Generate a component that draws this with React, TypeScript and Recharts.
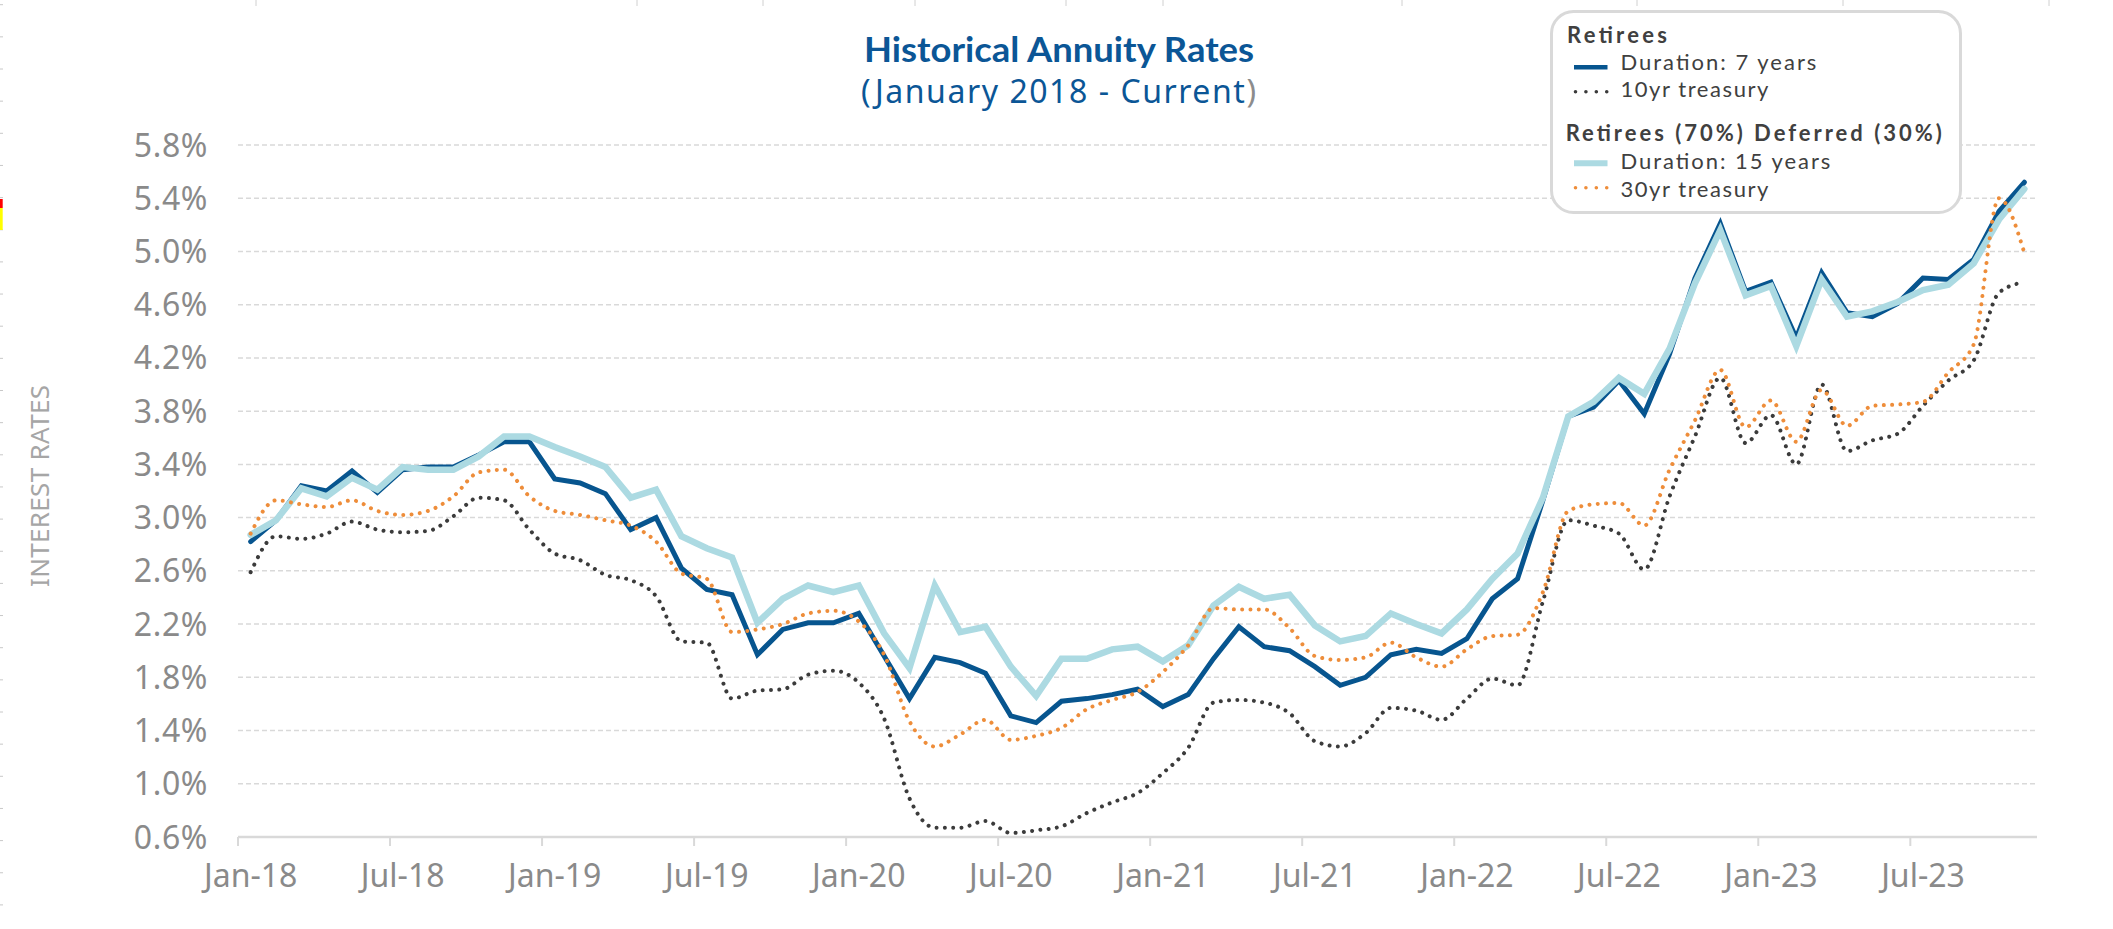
import React from 'react';
import { LineChart, Line, XAxis, YAxis, CartesianGrid, Legend } from 'recharts';

// ---------- data ----------
const MONTHS = [
  'Jan-18','Feb-18','Mar-18','Apr-18','May-18','Jun-18','Jul-18','Aug-18','Sep-18','Oct-18','Nov-18','Dec-18',
  'Jan-19','Feb-19','Mar-19','Apr-19','May-19','Jun-19','Jul-19','Aug-19','Sep-19','Oct-19','Nov-19','Dec-19',
  'Jan-20','Feb-20','Mar-20','Apr-20','May-20','Jun-20','Jul-20','Aug-20','Sep-20','Oct-20','Nov-20','Dec-20',
  'Jan-21','Feb-21','Mar-21','Apr-21','May-21','Jun-21','Jul-21','Aug-21','Sep-21','Oct-21','Nov-21','Dec-21',
  'Jan-22','Feb-22','Mar-22','Apr-22','May-22','Jun-22','Jul-22','Aug-22','Sep-22','Oct-22','Nov-22','Dec-22',
  'Jan-23','Feb-23','Mar-23','Apr-23','May-23','Jun-23','Jul-23','Aug-23','Sep-23','Oct-23','Nov-23',
];

// Retirees – Duration: 7 years
const DUR7 = [
  2.82, 2.98, 3.24, 3.20, 3.35, 3.19, 3.36, 3.38, 3.38, 3.47, 3.57, 3.57,
  3.29, 3.26, 3.18, 2.91, 3.00, 2.62, 2.46, 2.42, 1.97, 2.16, 2.21, 2.21,
  2.28, 1.96, 1.64, 1.95, 1.91, 1.83, 1.51, 1.46, 1.62, 1.64, 1.67, 1.71,
  1.58, 1.67, 1.94, 2.18, 2.03, 2.00, 1.88, 1.74, 1.80, 1.97, 2.01, 1.98,
  2.09, 2.39, 2.54, 3.13, 3.76, 3.83, 4.03, 3.78, 4.23, 4.80, 5.21, 4.70,
  4.77, 4.35, 4.84, 4.54, 4.51, 4.61, 4.80, 4.79, 4.94, 5.30, 5.52,
];

// Retirees (70%) Deferred (30%) – Duration: 15 years
const DUR15 = [
  2.87, 2.98, 3.22, 3.16, 3.30, 3.21, 3.38, 3.36, 3.36, 3.46, 3.61, 3.61,
  3.53, 3.46, 3.38, 3.15, 3.21, 2.86, 2.77, 2.70, 2.21, 2.39, 2.49, 2.44,
  2.49, 2.13, 1.87, 2.49, 2.14, 2.18, 1.88, 1.66, 1.94, 1.94, 2.01, 2.03,
  1.92, 2.04, 2.34, 2.48, 2.39, 2.42, 2.19, 2.07, 2.11, 2.28, 2.20, 2.13,
  2.31, 2.54, 2.73, 3.15, 3.76, 3.87, 4.05, 3.93, 4.27, 4.76, 5.16, 4.67,
  4.74, 4.29, 4.79, 4.51, 4.55, 4.62, 4.71, 4.75, 4.91, 5.24, 5.47,
];

// 10yr treasury
const T10 = [
  2.59, 2.86, 2.84, 2.88, 2.97, 2.91, 2.89, 2.90, 3.01, 3.15, 3.13, 2.91,
  2.73, 2.68, 2.57, 2.53, 2.41, 2.07, 2.06, 1.64, 1.70, 1.71, 1.82, 1.85,
  1.76, 1.49, 0.89, 0.67, 0.67, 0.72, 0.63, 0.65, 0.68, 0.78, 0.86, 0.93,
  1.08, 1.27, 1.61, 1.63, 1.61, 1.53, 1.32, 1.28, 1.38, 1.57, 1.55, 1.48,
  1.64, 1.79, 1.74, 2.37, 2.98, 2.94, 2.88, 2.61, 3.16, 3.61, 4.05, 3.56,
  3.77, 3.40, 4.00, 3.50, 3.58, 3.63, 3.84, 4.03, 4.18, 4.69, 4.77,
];

// 30yr treasury
const T30 = [
  2.88, 3.13, 3.10, 3.08, 3.13, 3.05, 3.02, 3.05, 3.16, 3.34, 3.36, 3.16,
  3.05, 3.02, 2.98, 2.94, 2.82, 2.58, 2.54, 2.14, 2.16, 2.20, 2.28, 2.30,
  2.22, 1.97, 1.47, 1.28, 1.37, 1.48, 1.33, 1.36, 1.42, 1.56, 1.63, 1.69,
  1.84, 2.04, 2.32, 2.31, 2.31, 2.17, 1.96, 1.93, 1.95, 2.06, 1.95, 1.88,
  2.01, 2.11, 2.12, 2.44, 3.05, 3.10, 3.11, 2.94, 3.36, 3.73, 4.11, 3.68,
  3.88, 3.57, 3.96, 3.69, 3.84, 3.85, 3.87, 4.09, 4.30, 5.40, 4.99,
];

const Y_TICKS = [0.6, 1.0, 1.4, 1.8, 2.2, 2.6, 3.0, 3.4, 3.8, 4.2, 4.6, 5.0, 5.4, 5.8];

const TITLE = 'Historical Annuity Rates';
const SUBTITLE_MAIN = '(January 2018 - Current';
const SUBTITLE_END = ')';
const Y_LABEL = 'INTEREST RATES';
const GROUP1 = 'Retirees';
const GROUP2 = 'Retirees (70%) Deferred (30%)';

const data = MONTHS.map((m, i) => ({
  month: m,
  dur7: DUR7[i],
  dur15: DUR15[i],
  t10: T10[i],
  t30: T30[i],
}));

// ---------- styles / layout ----------
const W = 2113;
const H = 929;
const MARGIN = { top: 145, right: 76, bottom: 32, left: 178 };
const Y_AXIS_W = 60;
const X_AXIS_H = 60;
const PLOT_W = W - MARGIN.left - MARGIN.right - Y_AXIS_W;
const BAND = PLOT_W / MONTHS.length;

const C_DUR7 = '#07558f';
const C_DUR15 = '#acdae2';
const C_T10 = '#3b3b3b';
const C_T30 = '#ee8d3a';
const C_TITLE = '#0b5696';
const C_AXIS_TXT = '#8a8a8a';
const C_GRID = '#d9d9d9';
const C_LEG_TXT = '#404040';

const SANS = '"Noto Sans", "Open Sans", sans-serif';
const LATO = 'Lato, "Noto Sans", sans-serif';

type SeriesCfg = {
  key: string;
  name: string;
  color: string;
  width: number;
  dotted: boolean;
};

const SERIES: SeriesCfg[] = [
  { key: 'dur7', name: 'Duration: 7 years', color: C_DUR7, width: 5, dotted: false },
  { key: 'dur15', name: 'Duration: 15 years', color: C_DUR15, width: 6.5, dotted: false },
  { key: 't10', name: '10yr treasury', color: C_T10, width: 4, dotted: true },
  { key: 't30', name: '30yr treasury', color: C_T30, width: 4, dotted: true },
];

const XTick = (props: any) => {
  const { x, y, payload } = props;
  const bx = x - BAND / 2;
  return (
    <g>
      <line x1={bx} x2={bx} y1={y} y2={y + 9} stroke={C_GRID} strokeWidth={2} />
      <text
        x={x}
        y={y + 50}
        textAnchor="middle"
        fill={C_AXIS_TXT}
        fontSize={32}
        fontFamily={SANS}
      >
        {payload.value}
      </text>
    </g>
  );
};

const YTick = (props: any) => {
  const { x, y, payload } = props;
  return (
    <text
      x={x}
      y={y}
      dy="0.36em"
      textAnchor="end"
      fill={C_AXIS_TXT}
      fontSize={32}
      fontFamily={SANS}
      letterSpacing={0.6}
    >
      {`${Number(payload.value).toFixed(1)}%`}
    </text>
  );
};

const LegendSymbol = ({ s, y }: { s: SeriesCfg; y: number }) => {
  if (s.dotted) {
    return (
      <line
        x1={25.5}
        x2={57}
        y1={y}
        y2={y}
        stroke={s.color}
        strokeWidth={3.6}
        strokeLinecap="round"
        strokeDasharray="0.01 10.4"
      />
    );
  }
  return <line x1={24} x2={57.5} y1={y} y2={y} stroke={s.color} strokeWidth={s.width - 0.5} />;
};

const LegendBox = () => {
  const [s7, s15, s10, s30] = [SERIES[0], SERIES[1], SERIES[2], SERIES[3]];
  const itemProps = {
    fill: C_LEG_TXT,
    fontSize: 22,
    fontFamily: LATO,
  };
  const headProps = {
    fill: C_LEG_TXT,
    fontSize: 22,
    fontWeight: 700,
    fontFamily: LATO,
  };
  return (
    <svg width={413} height={205} style={{ display: 'block' }}>
      <rect x={1.5} y={1.5} width={409} height={201} rx={22} ry={22} fill="#ffffff" stroke="#d9d9d9" strokeWidth={3} />
      <text x={17} y={33.3} {...headProps} textLength={100}>{GROUP1}</text>
      <LegendSymbol s={s7} y={57.3} />
      <text x={70.4} y={60} {...itemProps} textLength={196}>{s7.name}</text>
      <LegendSymbol s={s10} y={81.7} />
      <text x={70.4} y={86.7} {...itemProps} textLength={148}>{s10.name}</text>
      <text x={15.7} y={130.7} {...headProps} textLength={376}>{GROUP2}</text>
      <LegendSymbol s={s15} y={153.3} />
      <text x={70.4} y={159.3} {...itemProps} textLength={210}>{s15.name}</text>
      <LegendSymbol s={s30} y={177.7} />
      <text x={70.4} y={186.7} {...itemProps} textLength={148}>{s30.name}</text>
    </svg>
  );
};

const LEFT_MARKS = Array.from({ length: 29 }, (_, k) => 4.7 + 32.15 * k);
const TOP_MARKS = [256, 637, 763, 915, 1066, 1163, 1402, 1637, 1843, 2049];

const Overlay = () => (
  <svg
    width={W}
    height={H}
    style={{ position: 'absolute', left: 0, top: 0, pointerEvents: 'none' }}
  >
    {LEFT_MARKS.map((y, i) => (
      <line key={`lm${i}`} x1={0} x2={3} y1={y} y2={y} stroke="#c8c8c8" strokeWidth={1} />
    ))}
    <rect x={0} y={199} width={2.7} height={9} fill="#ff0000" />
    <rect x={0} y={208} width={2.7} height={22} fill="#ffff00" />
    {TOP_MARKS.map((x, i) => (
      <line key={`tm${i}`} x1={x} x2={x} y1={0} y2={6} stroke="#d0d0d0" strokeWidth={1} />
    ))}
    <text
      x={864}
      y={62}
      fill={C_TITLE}
      fontSize={35}
      fontWeight={700}
      fontFamily={LATO}
      textLength={390}
      lengthAdjust="spacingAndGlyphs"
    >
      {TITLE}
    </text>
    <text
      x={861}
      y={103}
      fill={C_TITLE}
      fontSize={32}
      fontFamily={SANS}
      textLength={395}
    >
      {SUBTITLE_MAIN}
      <tspan fill="#8c8c8c">{SUBTITLE_END}</tspan>
    </text>
    <text
      transform="translate(49, 486) rotate(-90)"
      x={0}
      y={0}
      textAnchor="middle"
      fill="#a6a6a6"
      fontSize={26}
      fontFamily={SANS}
      textLength={202}
    >
      {Y_LABEL}
    </text>
  </svg>
);

export default function App() {
  return (
    <div
      style={{
        position: 'absolute',
        left: 0,
        top: 0,
        width: W,
        height: H,
        background: '#ffffff',
        overflow: 'hidden',
      }}
    >
      <LineChart width={W} height={H} data={data} margin={MARGIN}>
        <CartesianGrid
          vertical={false}
          stroke={C_GRID}
          strokeWidth={1.5}
          strokeDasharray="5 3"
        />
        <XAxis
          dataKey="month"
          type="category"
          scale="band"
          interval={5}
          height={X_AXIS_H}
          tickSize={0}
          tickMargin={0}
          tickLine={false}
          axisLine={{ stroke: C_GRID, strokeWidth: 2.5 }}
          tick={<XTick />}
        />
        <YAxis
          type="number"
          domain={[0.6, 5.8]}
          ticks={Y_TICKS}
          width={Y_AXIS_W}
          tickSize={0}
          tickMargin={30}
          axisLine={false}
          tickLine={false}
          tick={<YTick />}
          interval={0}
        />
        {SERIES.map((s) => (
          <Line
            key={s.key}
            dataKey={s.key}
            name={s.name}
            type={s.dotted ? 'monotone' : 'linear'}
            stroke={s.color}
            strokeWidth={s.width}
            strokeLinecap="round"
            strokeLinejoin={s.dotted ? 'round' : 'miter'}
            strokeDasharray={s.dotted ? '0.01 8.3' : undefined}
            dot={false}
            activeDot={false}
            isAnimationActive={false}
          />
        ))}
        <Legend
          layout="vertical"
          verticalAlign="middle"
          align="center"
          content={<LegendBox />}
          wrapperStyle={{ position: 'absolute', left: 1550, top: 10, width: 413, height: 205 }}
        />
      </LineChart>
      <Overlay />
    </div>
  );
}
